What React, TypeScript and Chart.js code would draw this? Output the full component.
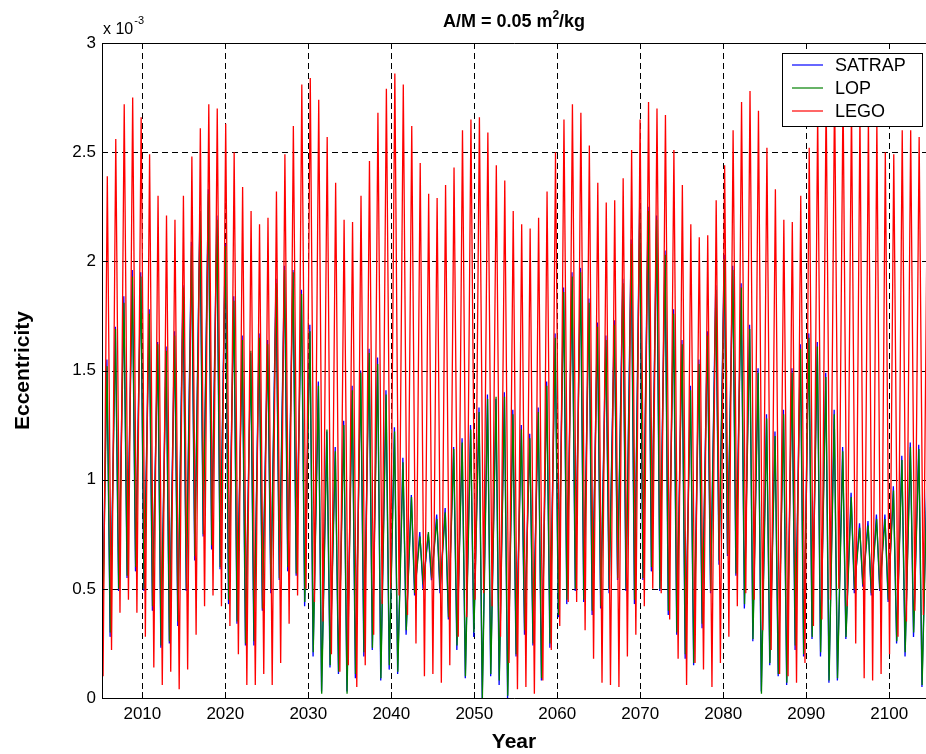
import React, { useEffect, useRef } from "react";
import { Chart, registerables } from "chart.js";

Chart.register(...registerables);

// ---------- axis ranges and tick labels ----------
const X_MIN = 2005.14;
const X_MAX = 2104.43;
const YEAR_TICKS = [2010, 2020, 2030, 2040, 2050, 2060, 2070, 2080, 2090, 2100];
const ECC_TICKS = [0, 0.5, 1, 1.5, 2, 2.5, 3];

// ---------- sampling cadence of the read extrema (years) ----------
const CYCLE_YEARS = 1.019;
const LEGO_FIRST_TROUGH = 2005.27;
const LEGO_FIRST_PEAK = 2005.78;
const LOP_FIRST_TROUGH = 2005.12;
const LOP_FIRST_PEAK = 2005.75;
const SATRAP_FIRST_TROUGH = 2005.1;
const SATRAP_FIRST_PEAK = 2005.73;

// ---------- eccentricity (x 10^-3), one trough + one peak per cycle ----------
const LEGO_PEAKS = [
  2.39, 2.56, 2.72, 2.75, 2.66, 2.49, 2.30, 2.21, 2.19, 2.30,
  2.48, 2.61, 2.72, 2.70, 2.63, 2.50, 2.34, 2.23, 2.17, 2.20,
  2.32, 2.49, 2.62, 2.81, 2.84, 2.74, 2.57, 2.36, 2.19, 2.18,
  2.30, 2.46, 2.68, 2.79, 2.86, 2.81, 2.62, 2.45, 2.31, 2.29,
  2.35, 2.43, 2.60, 2.65, 2.66, 2.59, 2.44, 2.37, 2.23, 2.17,
  2.15, 2.20, 2.32, 2.50, 2.65, 2.72, 2.68, 2.53, 2.36, 2.27,
  2.28, 2.38, 2.51, 2.65, 2.73, 2.70, 2.67, 2.51, 2.35, 2.17,
  2.11, 2.12, 2.28, 2.44, 2.60, 2.73, 2.78, 2.69, 2.52, 2.33,
  2.19, 2.18, 2.30, 2.52, 2.68, 2.76, 2.80, 2.78, 2.72, 2.68,
  2.66, 2.64, 2.50, 2.49, 2.60, 2.60, 2.57, 2.45,
];
const LEGO_TROUGHS = [
  0.10, 0.22, 0.39, 0.45, 0.39, 0.28, 0.14, 0.06, 0.12, 0.04,
  0.13, 0.29, 0.42, 0.47, 0.42, 0.33, 0.20, 0.06, 0.06, 0.11,
  0.06, 0.16, 0.34, 0.47, 0.50, 0.44, 0.35, 0.20, 0.12, 0.15,
  0.05, 0.15, 0.29, 0.43, 0.50, 0.47, 0.38, 0.25, 0.10, 0.11,
  0.07, 0.15, 0.28, 0.37, 0.45, 0.48, 0.42, 0.28, 0.16, 0.04,
  0.05, 0.02, 0.08, 0.22, 0.33, 0.44, 0.44, 0.31, 0.18, 0.07,
  0.06, 0.05, 0.19, 0.29, 0.42, 0.50, 0.48, 0.36, 0.18, 0.06,
  0.16, 0.13, 0.05, 0.16, 0.28, 0.42, 0.48, 0.45, 0.31, 0.22,
  0.11, 0.10, 0.07, 0.16, 0.33, 0.36, 0.45, 0.50, 0.42, 0.25,
  0.09, 0.08, 0.11, 0.20, 0.28, 0.35, 0.40, 0.38,
];
const LOP_PEAKS = [
  1.52, 1.69, 1.81, 1.93, 1.93, 1.76, 1.62, 1.59, 1.66, 1.88,
  2.07, 2.23, 2.31, 2.19, 2.07, 1.82, 1.64, 1.59, 1.65, 1.62,
  1.90, 1.96, 1.95, 1.85, 1.68, 1.43, 1.23, 1.13, 1.25, 1.41,
  1.49, 1.58, 1.53, 1.39, 1.22, 1.08, 0.92, 0.74, 0.76, 0.82,
  0.85, 1.14, 1.17, 1.23, 1.31, 1.37, 1.38, 1.38, 1.30, 1.23,
  1.19, 1.31, 1.43, 1.65, 1.86, 1.93, 1.95, 1.81, 1.70, 1.64,
  1.71, 1.90, 2.08, 2.24, 2.23, 2.19, 2.03, 1.76, 1.62, 1.41,
  1.53, 1.66, 1.87, 2.01, 1.96, 1.88, 1.69, 1.49, 1.28, 1.20,
  1.30, 1.49, 1.60, 1.65, 1.61, 1.47, 1.30, 1.13, 0.92, 0.78,
  0.79, 0.82, 0.82, 0.95, 1.09, 1.15, 1.14, 1.05,
];
const LOP_TROUGHS = [
  0.10, 0.30, 0.50, 0.56, 0.60, 0.50, 0.42, 0.24, 0.26, 0.35,
  0.50, 0.65, 0.75, 0.70, 0.60, 0.45, 0.35, 0.25, 0.26, 0.41,
  0.50, 0.55, 0.60, 0.57, 0.44, 0.21, 0.02, 0.15, 0.12, 0.02,
  0.11, 0.21, 0.23, 0.09, 0.15, 0.12, 0.31, 0.48, 0.52, 0.55,
  0.50, 0.37, 0.24, 0.10, 0.30, 0.00, 0.11, 0.08, 0.01, 0.20,
  0.31, 0.25, 0.09, 0.25, 0.38, 0.45, 0.50, 0.45, 0.40, 0.42,
  0.50, 0.55, 0.50, 0.45, 0.55, 0.60, 0.50, 0.40, 0.30, 0.20,
  0.16, 0.34, 0.49, 0.63, 0.66, 0.57, 0.43, 0.27, 0.02, 0.16,
  0.11, 0.07, 0.24, 0.20, 0.28, 0.21, 0.08, 0.09, 0.28, 0.50,
  0.52, 0.48, 0.50, 0.45, 0.26, 0.21, 0.30, 0.06,
];
const SATRAP_PEAKS = [
  1.55, 1.70, 1.84, 1.96, 1.95, 1.78, 1.63, 1.61, 1.68, 1.89,
  2.09, 2.22, 2.33, 2.21, 2.08, 1.84, 1.66, 1.58, 1.67, 1.64,
  1.92, 1.98, 1.96, 1.87, 1.71, 1.45, 1.22, 1.15, 1.27, 1.43,
  1.50, 1.60, 1.56, 1.41, 1.24, 1.10, 0.93, 0.76, 0.75, 0.84,
  0.87, 1.15, 1.19, 1.25, 1.33, 1.39, 1.37, 1.40, 1.32, 1.25,
  1.21, 1.33, 1.45, 1.67, 1.88, 1.95, 1.97, 1.83, 1.72, 1.66,
  1.73, 1.92, 2.10, 2.26, 2.25, 2.21, 2.05, 1.78, 1.64, 1.43,
  1.55, 1.68, 1.89, 2.03, 1.98, 1.90, 1.71, 1.51, 1.30, 1.22,
  1.32, 1.51, 1.62, 1.67, 1.63, 1.49, 1.32, 1.15, 0.94, 0.80,
  0.81, 0.84, 0.84, 0.97, 1.11, 1.17, 1.16, 1.07,
];
const SATRAP_TROUGHS = [
  0.09, 0.28, 0.49, 0.55, 0.58, 0.49, 0.40, 0.23, 0.25, 0.33,
  0.49, 0.63, 0.74, 0.68, 0.59, 0.43, 0.34, 0.24, 0.24, 0.40,
  0.48, 0.54, 0.58, 0.56, 0.42, 0.19, 0.03, 0.14, 0.11, 0.03,
  0.09, 0.19, 0.22, 0.08, 0.13, 0.11, 0.29, 0.47, 0.50, 0.54,
  0.48, 0.36, 0.22, 0.09, 0.28, 0.00, 0.10, 0.06, 0.00, 0.19,
  0.29, 0.24, 0.08, 0.23, 0.37, 0.43, 0.49, 0.44, 0.38, 0.41,
  0.48, 0.54, 0.49, 0.43, 0.54, 0.58, 0.49, 0.38, 0.29, 0.18,
  0.15, 0.32, 0.48, 0.61, 0.65, 0.56, 0.41, 0.26, 0.03, 0.15,
  0.10, 0.06, 0.22, 0.19, 0.27, 0.19, 0.07, 0.08, 0.27, 0.48,
  0.51, 0.47, 0.49, 0.44, 0.25, 0.19, 0.28, 0.05,
];

const SERIES_NAMES = ["SATRAP", "LOP", "LEGO"];
const SERIES_COLORS = ["#0000ff", "#008000", "#ff0000"];

const FONT = '"Liberation Sans", Arial, Helvetica, sans-serif';

function buildSeries(troughs: number[], peaks: number[], t0: number, p0: number) {
  const pts: { x: number; y: number }[] = [];
  for (let n = 0; n < peaks.length; n++) {
    pts.push({ x: t0 + n * CYCLE_YEARS, y: troughs[n] });
    pts.push({ x: p0 + n * CYCLE_YEARS, y: peaks[n] });
  }
  return pts;
}

const matlabDecor = {
  id: "matlabDecor",
  beforeDatasetsDraw(chart: any) {
    const { ctx, chartArea: a, scales } = chart;
    const xs = scales.x;
    const ys = scales.y;
    ctx.save();
    ctx.strokeStyle = "#000";
    ctx.lineWidth = 1;
    ctx.setLineDash([6, 4]);
    for (const yr of YEAR_TICKS) {
      const px = Math.round(xs.getPixelForValue(yr)) + 0.5;
      ctx.beginPath();
      ctx.moveTo(px, a.top);
      ctx.lineTo(px, a.bottom);
      ctx.stroke();
    }
    for (const v of ECC_TICKS) {
      if (v <= 0 || v >= 3) continue;
      const py = Math.round(ys.getPixelForValue(v)) + 0.5;
      ctx.beginPath();
      ctx.moveTo(a.left, py);
      ctx.lineTo(a.right, py);
      ctx.stroke();
    }
    ctx.restore();
  },
  afterDatasetsDraw(chart: any) {
    const { ctx, chartArea: a, scales } = chart;
    const xs = scales.x;
    const ys = scales.y;
    ctx.save();
    ctx.setLineDash([]);
    ctx.strokeStyle = "#000";
    ctx.lineWidth = 1;
    // frame
    ctx.beginPath();
    ctx.moveTo(a.right, a.top + 0.5);
    ctx.lineTo(a.left + 0.5, a.top + 0.5);
    ctx.lineTo(a.left + 0.5, a.bottom + 0.5);
    ctx.lineTo(a.right, a.bottom + 0.5);
    ctx.stroke();
    // inward ticks
    const TL = 6;
    for (const yr of YEAR_TICKS) {
      const px = Math.round(xs.getPixelForValue(yr)) + 0.5;
      ctx.beginPath();
      ctx.moveTo(px, a.bottom);
      ctx.lineTo(px, a.bottom - TL);
      ctx.moveTo(px, a.top);
      ctx.lineTo(px, a.top + TL);
      ctx.stroke();
    }
    for (const v of ECC_TICKS) {
      const py = Math.round(ys.getPixelForValue(v)) + 0.5;
      ctx.beginPath();
      ctx.moveTo(a.left, py);
      ctx.lineTo(a.left + TL, py);
      ctx.stroke();
    }

    // legend
    const lx = 782, ly = 53, lw = 140, lh = 73;
    ctx.fillStyle = "#ffffff";
    ctx.fillRect(lx, ly, lw, lh);
    ctx.strokeStyle = "#000000";
    ctx.lineWidth = 1;
    ctx.strokeRect(lx + 0.5, ly + 0.5, lw, lh);
    const rows = [65, 88, 111];
    ctx.font = `18px ${FONT}`;
    ctx.textBaseline = "middle";
    ctx.textAlign = "left";
    for (let i = 0; i < SERIES_NAMES.length; i++) {
      ctx.beginPath();
      ctx.lineWidth = 1.2;
      ctx.strokeStyle = SERIES_COLORS[i];
      ctx.moveTo(792, rows[i]);
      ctx.lineTo(823, rows[i]);
      ctx.stroke();
      ctx.fillStyle = "#000000";
      ctx.fillText(SERIES_NAMES[i], 835, rows[i] + 1);
    }
    ctx.restore();
  },
  afterDraw(chart: any) {
    const { ctx, chartArea: a } = chart;
    ctx.save();
    ctx.fillStyle = "#000";
    ctx.textBaseline = "alphabetic";
    ctx.textAlign = "left";

    // title with superscript
    const cx = (a.left + a.right) / 2;
    ctx.font = `bold 18px ${FONT}`;
    const t1 = "A/M = 0.05 m";
    const t2 = "/kg";
    const w1 = ctx.measureText(t1).width;
    const w2 = ctx.measureText(t2).width;
    ctx.font = `bold 12px ${FONT}`;
    const ws = ctx.measureText("2").width;
    const x0 = cx - (w1 + ws + w2) / 2;
    ctx.font = `bold 18px ${FONT}`;
    ctx.fillText(t1, x0, 27);
    ctx.font = `bold 12px ${FONT}`;
    ctx.fillText("2", x0 + w1, 19);
    ctx.font = `bold 18px ${FONT}`;
    ctx.fillText(t2, x0 + w1 + ws, 27);

    // exponent label
    ctx.font = `16px ${FONT}`;
    const e1 = "x 10";
    ctx.fillText(e1, 103, 34);
    const we = ctx.measureText(e1).width;
    ctx.font = `11px ${FONT}`;
    ctx.fillText("-3", 103 + we + 1, 24);

    // axis titles
    ctx.font = `bold 21px ${FONT}`;
    ctx.textAlign = "center";
    ctx.fillText("Year", cx, 748);
    ctx.translate(29, (a.top + a.bottom) / 2);
    ctx.rotate(-Math.PI / 2);
    ctx.fillText("Eccentricity", 0, 0);
    ctx.restore();
  },
};

export default function App() {
  const canvasRef = useRef<HTMLCanvasElement | null>(null);

  useEffect(() => {
    const canvas = canvasRef.current;
    if (!canvas) return;
    const satrap = buildSeries(SATRAP_TROUGHS, SATRAP_PEAKS, SATRAP_FIRST_TROUGH, SATRAP_FIRST_PEAK);
    const lop = buildSeries(LOP_TROUGHS, LOP_PEAKS, LOP_FIRST_TROUGH, LOP_FIRST_PEAK);
    const lego = buildSeries(LEGO_TROUGHS, LEGO_PEAKS, LEGO_FIRST_TROUGH, LEGO_FIRST_PEAK);

    const chart = new Chart(canvas, {
      type: "line",
      data: {
        datasets: [
          { label: SERIES_NAMES[2], data: lego, borderColor: SERIES_COLORS[2], borderWidth: 1.3, pointRadius: 0, tension: 0, fill: false },
          { label: SERIES_NAMES[1], data: lop, borderColor: SERIES_COLORS[1], borderWidth: 1.3, pointRadius: 0, tension: 0, fill: false },
          { label: SERIES_NAMES[0], data: satrap, borderColor: SERIES_COLORS[0], borderWidth: 1.3, pointRadius: 0, tension: 0, fill: false },
        ],
      },
      options: {
        animation: false,
        responsive: false,
        devicePixelRatio: 1,
        events: [],
        layout: { padding: { top: 43, left: 0, right: 0, bottom: 0 } },
        plugins: {
          legend: { display: false },
          title: { display: false },
          tooltip: { enabled: false },
        },
        scales: {
          x: {
            type: "linear",
            min: X_MIN,
            max: X_MAX,
            grid: { display: false, drawTicks: false },
            border: { display: false },
            afterBuildTicks: (s: any) => {
              s.ticks = YEAR_TICKS.map((v) => ({ value: v }));
            },
            afterFit: (s: any) => {
              s.height = 56;
            },
            ticks: {
              autoSkip: false,
              maxRotation: 0,
              padding: 6,
              color: "#000",
              font: { family: FONT, size: 17 },
              callback: (v: any) => String(v),
            },
          },
          y: {
            type: "linear",
            min: 0,
            max: 3,
            grid: { display: false, drawTicks: false },
            border: { display: false },
            afterBuildTicks: (s: any) => {
              s.ticks = ECC_TICKS.map((v) => ({ value: v }));
            },
            afterFit: (s: any) => {
              s.width = 102;
            },
            ticks: {
              padding: 6,
              color: "#000",
              font: { family: FONT, size: 17 },
              callback: (v: any) => String(v),
            },
          },
        },
      },
      plugins: [matlabDecor],
    } as any);

    return () => chart.destroy();
  }, []);

  return (
    <div style={{ position: "absolute", left: 0, top: 0, width: 926, height: 754, background: "#fff" }}>
      <canvas ref={canvasRef} width={926} height={754} style={{ display: "block" }} />
    </div>
  );
}
